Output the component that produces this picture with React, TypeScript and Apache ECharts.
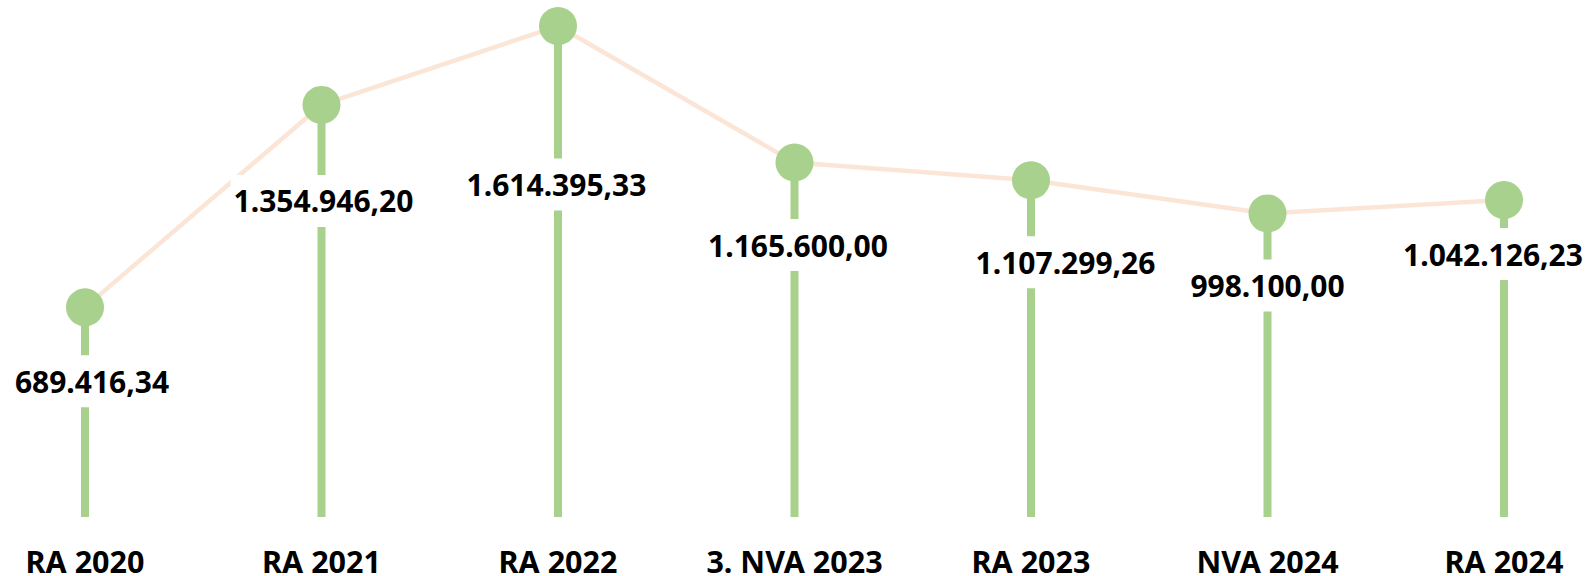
import React, { useEffect, useRef } from "react";
import * as echarts from "echarts";

const categories = ["RA 2020", "RA 2021", "RA 2022", "3. NVA 2023", "RA 2023", "NVA 2024", "RA 2024"];
const values = [689416.34, 1354946.2, 1614395.33, 1165600.0, 1107299.26, 998100.0, 1042126.23];
const valueLabels = ["689.416,34", "1.354.946,20", "1.614.395,33", "1.165.600,00", "1.107.299,26", "998.100,00", "1.042.126,23"];

// manual label placement (pixel offsets from the dot centre), as in the reference
const labelOffsets: [number, number][] = [
  [7, 74],
  [2, 96],
  [-1.5, 158.5],
  [3.5, 82.5],
  [34.5, 82],
  [0, 72],
  [-11, 54],
];

const GREEN = "#a9d18e";
const PEACH = "#fbe5d6";
const FONT = "Noto Sans";

export default function App() {
  const ref = useRef<HTMLDivElement>(null);
  useEffect(() => {
    if (!ref.current) return;
    const chart = echarts.init(ref.current, null, { renderer: "svg" });
    chart.setOption({
      animation: false,
      grid: { left: 85, right: 85, top: 0, bottom: 55 },
      xAxis: {
        type: "category",
        data: categories,
        boundaryGap: false,
        axisLine: { show: false },
        axisTick: { show: false },
        axisLabel: {
          interval: 0,
          margin: 28,
          color: "#000",
          fontFamily: FONT,
          fontWeight: "bold",
          fontSize: 30.5,
        },
      },
      yAxis: { type: "value", min: 0, max: 1700000, show: false },
      series: [
        {
          type: "bar",
          data: values,
          barWidth: 8,
          itemStyle: { color: GREEN },
          z: 2,
        },
        {
          type: "line",
          z: 3,
          data: values.map((v, i) => ({
            value: v,
            label: { offset: labelOffsets[i] },
          })),
          symbol: "circle",
          symbolSize: 38,
          itemStyle: { color: GREEN },
          lineStyle: { color: PEACH, width: 4.5 },
          label: {
            show: true,
            position: "inside",
            formatter: (p: any) => valueLabels[p.dataIndex],
            color: "#000",
            fontFamily: FONT,
            fontWeight: "bold",
            fontSize: 30,
            backgroundColor: "#fff",
            padding: [11, 3],
          },
        },
      ],
    });
    return () => chart.dispose();
  }, []);
  return (
    <div
      ref={ref}
      style={{ position: "absolute", left: 0, top: 0, width: 1589, height: 576, background: "#fff" }}
    />
  );
}
